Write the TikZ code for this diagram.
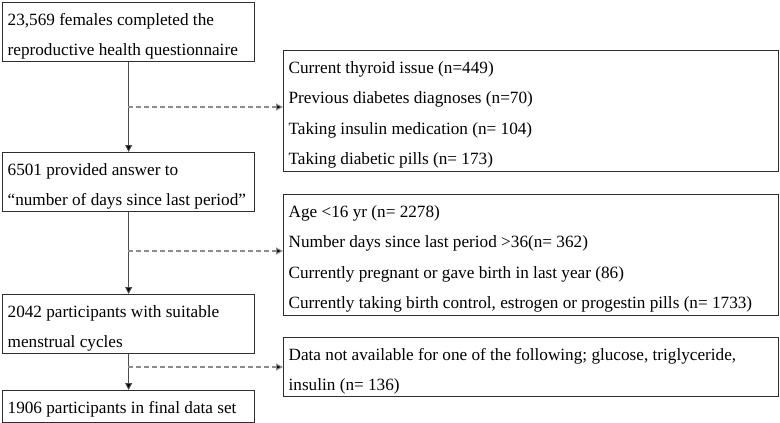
\documentclass[tikz,border=0pt]{standalone}
\usepackage{fontspec}
\setmainfont{Liberation Serif}
\usetikzlibrary{arrows.meta}
\definecolor{boxc}{gray}{0.18}
\definecolor{linec}{gray}{0.3}
\definecolor{dashc}{gray}{0.55}
\newcommand\bxt[3]{\parbox[c][#1][t]{#2}{\raggedright\rule{0pt}{23pt}#3}}
\begin{document}
\begin{tikzpicture}[x=1pt,y=-1pt,
  box/.style={draw=boxc, line width=1.3pt, anchor=north west,
    inner xsep=5pt, inner ysep=0pt,
    font=\fontsize{17.2}{30.2}\selectfont},
  flow/.style={draw=linec, line width=1pt, -{Triangle[length=7pt,width=7pt,fill=black]}},
  excl/.style={draw=dashc, line width=1.1pt, dash pattern=on 5pt off 3pt,
    -{Triangle[length=7pt,width=7pt,fill=black]}}]
\useasboundingbox (0,0) rectangle (780,423);
\node[box] (b1) at (2,2)
  {\bxt{59pt}{242pt}{23,569 females completed the\\reproductive health questionnaire}};
\node[box] (b2) at (283,50)
  {\bxt{121pt}{485pt}{Current thyroid issue (n=449)\\Previous diabetes diagnoses (n=70)\\Taking insulin medication (n= 104)\\Taking diabetic pills (n= 173)}};
\node[box] (b3) at (2,152)
  {\bxt{59pt}{242pt}{6501 provided answer to\\“number of days since last period”}};
\node[box] (b4) at (283,194)
  {\bxt{121pt}{485pt}{Age <16 yr (n= 2278)\\Number days since last period >36(n= 362)\\Currently pregnant or gave birth in last year (86)\\Currently taking birth control, estrogen or progestin pills (n= 1733)}};
\node[box] (b5) at (2,294)
  {\bxt{59pt}{242pt}{2042 participants with suitable\\menstrual cycles}};
\node[box] (b6) at (2,390)
  {\bxt{32pt}{242pt}{1906 participants in final data set}};
\node[box] (b7) at (283,337)
  {\bxt{59pt}{485pt}{Data not available for one of the following; glucose, triglyceride,\\insulin (n= 136)}};
\coordinate (d1) at (128,107);
\coordinate (d2) at (128,251);
\coordinate (d3) at (128,367);
\draw[flow] (b1.south) -- (b3.north);
\draw[flow] (b3.south) -- (b5.north);
\draw[flow] (b5.south) -- (b6.north);
\draw[excl] (d1) -- (d1 -| b2.west);
\draw[excl] (d2) -- (d2 -| b4.west);
\draw[excl] (d3) -- (d3 -| b7.west);
\end{tikzpicture}
\end{document}
